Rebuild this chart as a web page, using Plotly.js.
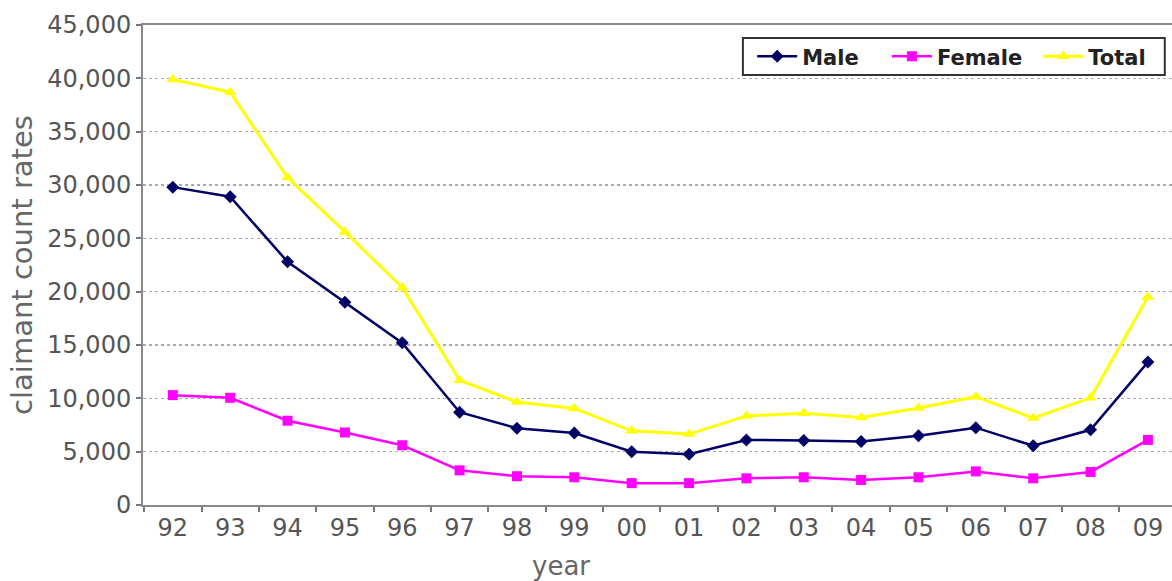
<!DOCTYPE html>
<html>
<head>
<meta charset="utf-8">
<script src="https://cdn.plot.ly/plotly-3.0.1.min.js"></script>
<style>
  html, body { margin: 0; padding: 0; background: #ffffff; }
  #chart { width: 1172px; height: 581px; }
</style>
</head>
<body>
<div id="chart"></div>
<script>
const years = ['92','93','94','95','96','97','98','99','00','01','02','03','04','05','06','07','08','09'];
const male = [29800, 28900, 22800, 19000, 15200, 8700, 7200, 6750, 5000, 4750, 6100, 6050, 5950, 6500, 7250, 5550, 7050, 13400];
const female = [10300, 10050, 7900, 6800, 5600, 3250, 2700, 2600, 2050, 2050, 2500, 2600, 2350, 2600, 3150, 2500, 3100, 6100];
const total = [39900, 38700, 30700, 25600, 20400, 11700, 9650, 9050, 6950, 6650, 8350, 8600, 8200, 9100, 10150, 8150, 10050, 19500];
const seriesNames = ['Male', 'Female', 'Total'];
const yTitle = 'claimant count rates';
const xTitle = 'year';

const traces = [
  {
    x: years, y: male, name: seriesNames[0], type: 'scatter', mode: 'lines+markers',
    legend: 'legend',
    line: { color: '#000066', width: 2.5 },
    marker: { symbol: 'diamond', size: 10, color: '#000066' }
  },
  {
    x: years, y: female, name: seriesNames[1], type: 'scatter', mode: 'lines+markers',
    legend: 'legend2',
    line: { color: '#ff00ff', width: 2.5 },
    marker: { symbol: 'square', size: 10, color: '#ff00ff' }
  },
  {
    x: years, y: total, name: seriesNames[2], type: 'scatter', mode: 'lines+markers',
    legend: 'legend3',
    line: { color: '#ffff00', width: 3 },
    marker: { symbol: 'triangle-up', size: 11, color: '#ffff00' }
  }
];

const legendFont = { family: 'DejaVu Sans, Verdana, sans-serif', size: 21, color: '#222222', weight: 'bold' };
function legendAt(xPos) {
  return {
    orientation: 'h', x: xPos, xanchor: 'left', y: 0.934, yanchor: 'middle',
    bgcolor: 'rgba(0,0,0,0)', borderwidth: 0, itemwidth: 40, font: legendFont
  };
}

const layout = {
  width: 1172, height: 581,
  margin: { l: 143, r: 0, t: 25, b: 76 },
  paper_bgcolor: '#ffffff', plot_bgcolor: '#ffffff',
  font: { family: 'DejaVu Sans, Verdana, sans-serif', color: '#555555' },
  showlegend: true,
  legend: legendAt(0.592),
  legend2: legendAt(0.723),
  legend3: legendAt(0.870),
  shapes: [
    {
      type: 'rect', xref: 'paper', yref: 'paper',
      x0: 0.583, x1: 0.993, y0: 0.896, y1: 0.973,
      line: { color: '#333333', width: 2 }, fillcolor: '#ffffff', layer: 'above'
    }
  ],
  xaxis: {
    type: 'category',
    range: [-0.52, 17.42],
    tickson: 'boundaries',
    ticks: 'outside', ticklen: 5, tickwidth: 2, tickcolor: '#777777',
    showline: true, linecolor: '#888888', linewidth: 2, mirror: true,
    showgrid: false, zeroline: false,
    tickfont: { family: 'DejaVu Sans, Verdana, sans-serif', size: 24, color: '#555555' },
    fixedrange: true
  },
  yaxis: {
    range: [0, 45000],
    dtick: 5000, tick0: 0,
    tickformat: ',d',
    ticks: 'outside', ticklen: 5, tickwidth: 2, tickcolor: '#777777',
    showline: true, linecolor: '#888888', linewidth: 2,
    showgrid: true, gridcolor: '#aaaaaa', gridwidth: 1.5, griddash: 'dot',
    zeroline: false,
    tickfont: { family: 'DejaVu Sans, Verdana, sans-serif', size: 24, color: '#555555' },
    title: { text: yTitle, font: { family: 'DejaVu Sans, Verdana, sans-serif', size: 29, color: '#666666' }, standoff: 6 },
    fixedrange: true
  },
  annotations: [
    {
      text: xTitle, xref: 'paper', yref: 'paper',
      x: 0.406, y: -0.127, xanchor: 'center', yanchor: 'middle',
      showarrow: false,
      font: { family: 'DejaVu Sans, Verdana, sans-serif', size: 26, color: '#666666' }
    }
  ]
};

Plotly.newPlot('chart', traces, layout, { displayModeBar: false, staticPlot: true });
</script>
</body>
</html>
